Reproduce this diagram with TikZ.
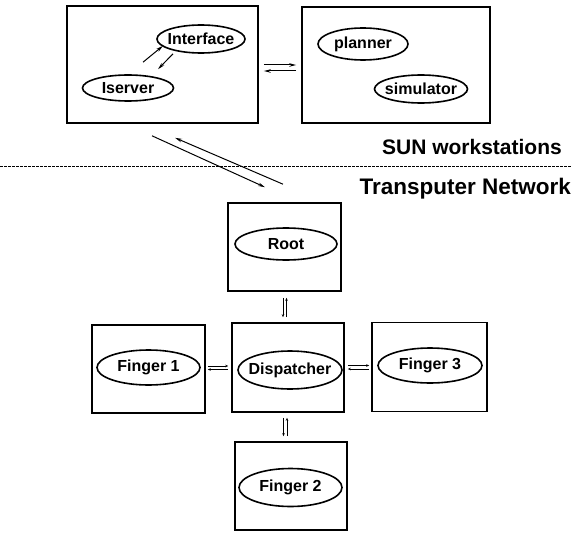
\documentclass[tikz,border=0pt]{standalone}
\usepackage{fontspec}
\setmainfont{Liberation Sans}
\usetikzlibrary{shapes.geometric,arrows.meta}

\tikzset{
  unit/.style={draw, line width=1.6pt, inner sep=0pt},
  proc/.style={ellipse, draw, line width=1.6pt, inner xsep=-20pt, inner ysep=0pt, font=\fontsize{16}{19}\selectfont\bfseries},
  link/.style={-{Stealth[length=7pt,width=3.5pt]}, line width=1pt},
  tinylink/.style={-{Stealth[length=3pt,width=2.5pt]}, line width=1pt},
  zone/.style={inner sep=0pt, font=\bfseries}
}

\begin{document}
\begin{tikzpicture}[x=1pt,y=-1pt]
\useasboundingbox (0,0) rectangle (572,532);

% SUN side
\node[unit, minimum width=191pt, minimum height=117pt] (ws1) at (162.5,64.5) {};
\node[unit, minimum width=188pt, minimum height=116pt] (ws2) at (396,65) {};
\node[proc, minimum width=88pt, minimum height=28pt] (interface) at (201,39) {Interface};
\node[proc, minimum width=91pt, minimum height=26pt] (iserver) at (128,88) {Iserver};
\node[proc, minimum width=90pt, minimum height=32pt] (planner) at (363,44) {planner};
\node[proc, minimum width=93pt, minimum height=28pt] (simulator) at (421,89) {simulator};

\draw[link] ([shift={(15,-12)}]iserver.north) -- ([shift={(-38,-8)}]interface.south);
\draw[link] ([shift={(-28,0)}]interface.south) -- ([shift={(30,-5)}]iserver.north);
\draw[link] ([shift={(5,0.5)}]ws1.east) -- ([shift={(-5,0)}]ws2.west);
\draw[link] ([shift={(-5,6)}]ws2.west) -- ([shift={(5,6.5)}]ws1.east);

% Divider and labels
\draw[line width=0.9pt, dash pattern=on 3pt off 1pt] (0,166) -- (572,166);
\node[zone, font=\fontsize{21}{25}\selectfont\bfseries, anchor=base east] (sun) at (562,154.5) {SUN workstations};
\node[zone, font=\fontsize{22.5}{27}\selectfont\bfseries, anchor=base east] (tnet) at (571,194) {Transputer Network};

% Transputers
\node[unit, minimum width=113pt, minimum height=88pt] (root) at (284.5,247) {};
\node[unit, minimum width=112pt, minimum height=89pt] (disp) at (288,367.5) {};
\node[unit, minimum width=113pt, minimum height=88pt] (f1) at (148.5,369) {};
\node[unit, minimum width=115pt, minimum height=89pt] (f3) at (429.5,367) {};
\node[unit, minimum width=112pt, minimum height=88pt] (f2) at (291,486) {};

\node[proc, minimum width=102pt, minimum height=32pt] (rootp) at (286,244) {Root};
\node[proc, minimum width=104pt, minimum height=38pt] (dispp) at (290,370) {Dispatcher};
\node[proc, minimum width=103pt, minimum height=35pt] (f1p) at (148.5,367.5) {Finger 1};
\node[proc, minimum width=104pt, minimum height=35pt] (f3p) at (430,365.5) {Finger 3};
\node[proc, minimum width=103pt, minimum height=38pt] (f2p) at (290.5,487.5) {Finger 2};

% Host link
\draw[link] ([shift={(-10.5,12)}]ws1.south) -- ([shift={(-19.5,-15)}]root.north);
\draw[link] ([shift={(-1.5,-18)}]root.north) -- ([shift={(12.5,14)}]ws1.south);

% Transputer links
\draw[tinylink] ([shift={(-1.5,6)}]root.south) -- ([shift={(-5,-5)}]disp.north);
\draw[tinylink] ([shift={(-1.5,-5)}]disp.north) -- ([shift={(2,6)}]root.south);
\draw[tinylink] ([shift={(-4.5,5)}]disp.south) -- ([shift={(-7.5,-5)}]f2.north);
\draw[tinylink] ([shift={(-4,-5)}]f2.north) -- ([shift={(-1,5)}]disp.south);
\draw[tinylink] ([shift={(2,-3)}]f1.east) -- ([shift={(-3,-1.5)}]disp.west);
\draw[tinylink] ([shift={(-3,2)}]disp.west) -- ([shift={(2,0.5)}]f1.east);
\draw[tinylink] ([shift={(3,-2)}]disp.east) -- ([shift={(-2,-1.5)}]f3.west);
\draw[tinylink] ([shift={(-2,2)}]f3.west) -- ([shift={(3,1.5)}]disp.east);

\end{tikzpicture}
\end{document}
